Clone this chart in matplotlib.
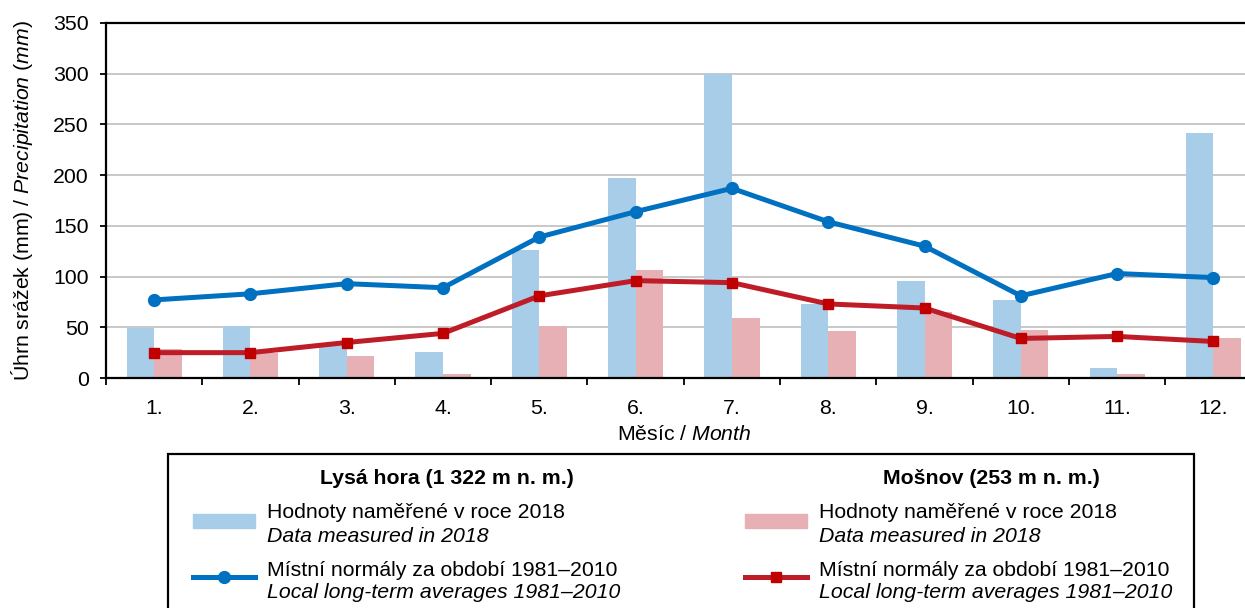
import numpy as np
import matplotlib
matplotlib.use("Agg")
import matplotlib.pyplot as plt
from matplotlib.patches import Rectangle
from matplotlib.lines import Line2D

# ── DATA ───────────────────────────────────────────────────────────────────────
months = ["1.", "2.", "3.", "4.", "5.", "6.", "7.", "8.", "9.", "10.", "11.", "12."]
lysa_2018   = [49, 51, 35, 26, 126, 197, 300, 73, 96, 77, 10, 242]
mosnov_2018 = [29, 25, 22, 4, 51, 106, 59, 46, 65, 47, 4, 39]
lysa_norm   = [77, 83, 93, 89, 139, 164, 187, 154, 130, 81, 103, 99]
mosnov_norm = [25, 25, 35, 44, 81, 96, 94, 73, 69, 39, 41, 36]

# ── STYLE ──────────────────────────────────────────────────────────────────────
BLUE_BAR = "#a7cde8"
PINK_BAR = "#e6b0b4"
BLUE_LN  = "#0070c0"
RED_LN   = "#be1c26"
RED_MK   = "#c00000"
GRID     = "#bfbfbf"

plt.rcParams.update({
    "font.family": ["Liberation Sans", "DejaVu Sans"],
    "font.size": 15.3,
    "mathtext.fontset": "custom",
    "mathtext.rm": "Liberation Sans",
    "mathtext.it": "Liberation Sans:italic",
    "mathtext.bf": "Liberation Sans:bold",
})

W, H = 1245, 608
fig = plt.figure(figsize=(W / 100, H / 100), dpi=100)

def fx(px): return px / W
def fy(py): return 1 - py / H

AX_L, AX_R, AX_T, AX_B = 106, 1261.6, 23, 378
ax = fig.add_axes([fx(AX_L), fy(AX_B), (AX_R - AX_L) / W, (AX_B - AX_T) / H])

x = np.arange(len(months))
bw = 0.287
ax.bar(x - bw / 2, lysa_2018, width=bw, color=BLUE_BAR, zorder=2)
ax.bar(x + bw / 2, mosnov_2018, width=bw, color=PINK_BAR, zorder=2)
ax.plot(x, lysa_norm, color=BLUE_LN, lw=3.6, marker="o", ms=8.5,
        mfc=BLUE_LN, mec=BLUE_LN, zorder=4)
ax.plot(x, mosnov_norm, color=RED_LN, lw=3.6, marker="s", ms=7.5,
        mfc=RED_MK, mec=RED_MK, zorder=4)

ax.set_xlim(-0.5, len(months) - 0.5)
ax.set_ylim(0, 350)
ax.set_yticks(np.arange(0, 351, 50))
ax.yaxis.grid(True, color=GRID, lw=1.2, zorder=0)
ax.set_axisbelow(True)

ax.set_xticks(x)
ax.set_xticklabels(months)
ax.set_xticks(np.arange(-0.5, len(months), 1.0), minor=True)
ax.tick_params(axis="x", which="major", length=0, pad=15)
ax.tick_params(axis="x", which="minor", length=5, width=1.3, direction="out")
ax.tick_params(axis="y", length=4, width=1.3, direction="out", pad=8.5)

for sp in ax.spines.values():
    sp.set_linewidth(1.6)
    sp.set_color("black")

ax.set_xlabel(r"Měsíc / $\mathit{Month}$")
ax.set_ylabel(r"Úhrn srážek (mm) / $\mathit{Precipitation\ (mm)}$")
ax.xaxis.set_label_coords(0.5, (AX_B - 425) / (AX_B - AX_T))
ax.yaxis.set_label_coords((35 - AX_L) / (AX_R - AX_L), 0.5)

# ── LEGEND BOX ─────────────────────────────────────────────────────────────────
fig.patches.append(Rectangle((fx(168), fy(640)), fx(1194) - fx(168), fy(454) - fy(640),
                             transform=fig.transFigure, fill=False,
                             edgecolor="black", lw=1.6))

fig.text(fx(447), fy(478), "Lysá hora (1 322 m n. m.)", weight="bold",
         ha="center", va="center")
fig.text(fx(991), fy(478), "Mošnov (253 m n. m.)", weight="bold",
         ha="center", va="center")

for x0, col_bar, col_ln, col_mk, mk, ms in [
        (193, BLUE_BAR, BLUE_LN, BLUE_LN, "o", 8.5),
        (745, PINK_BAR, RED_LN, RED_MK, "s", 7.5)]:
    fig.patches.append(Rectangle((fx(x0), fy(528)), fx(62), 14 / H,
                                 transform=fig.transFigure, color=col_bar))
    fig.lines.append(Line2D([fx(x0), fx(x0 + 62)], [fy(577), fy(577)],
                            transform=fig.transFigure, color=col_ln, lw=3.6))
    fig.lines.append(Line2D([fx(x0 + 31)], [fy(577)], transform=fig.transFigure,
                            marker=mk, ms=ms, color=col_mk, lw=0))
    tx = x0 + 74
    fig.text(fx(tx), fy(512), "Hodnoty naměřené v roce 2018", va="center")
    fig.text(fx(tx), fy(536), "Data measured in 2018", style="italic", va="center")
    fig.text(fx(tx), fy(570), "Místní normály za období 1981–2010", va="center")
    fig.text(fx(tx), fy(593), "Local long-term averages 1981–2010",
             style="italic", va="center")

fig.savefig("out.png", dpi=100)
